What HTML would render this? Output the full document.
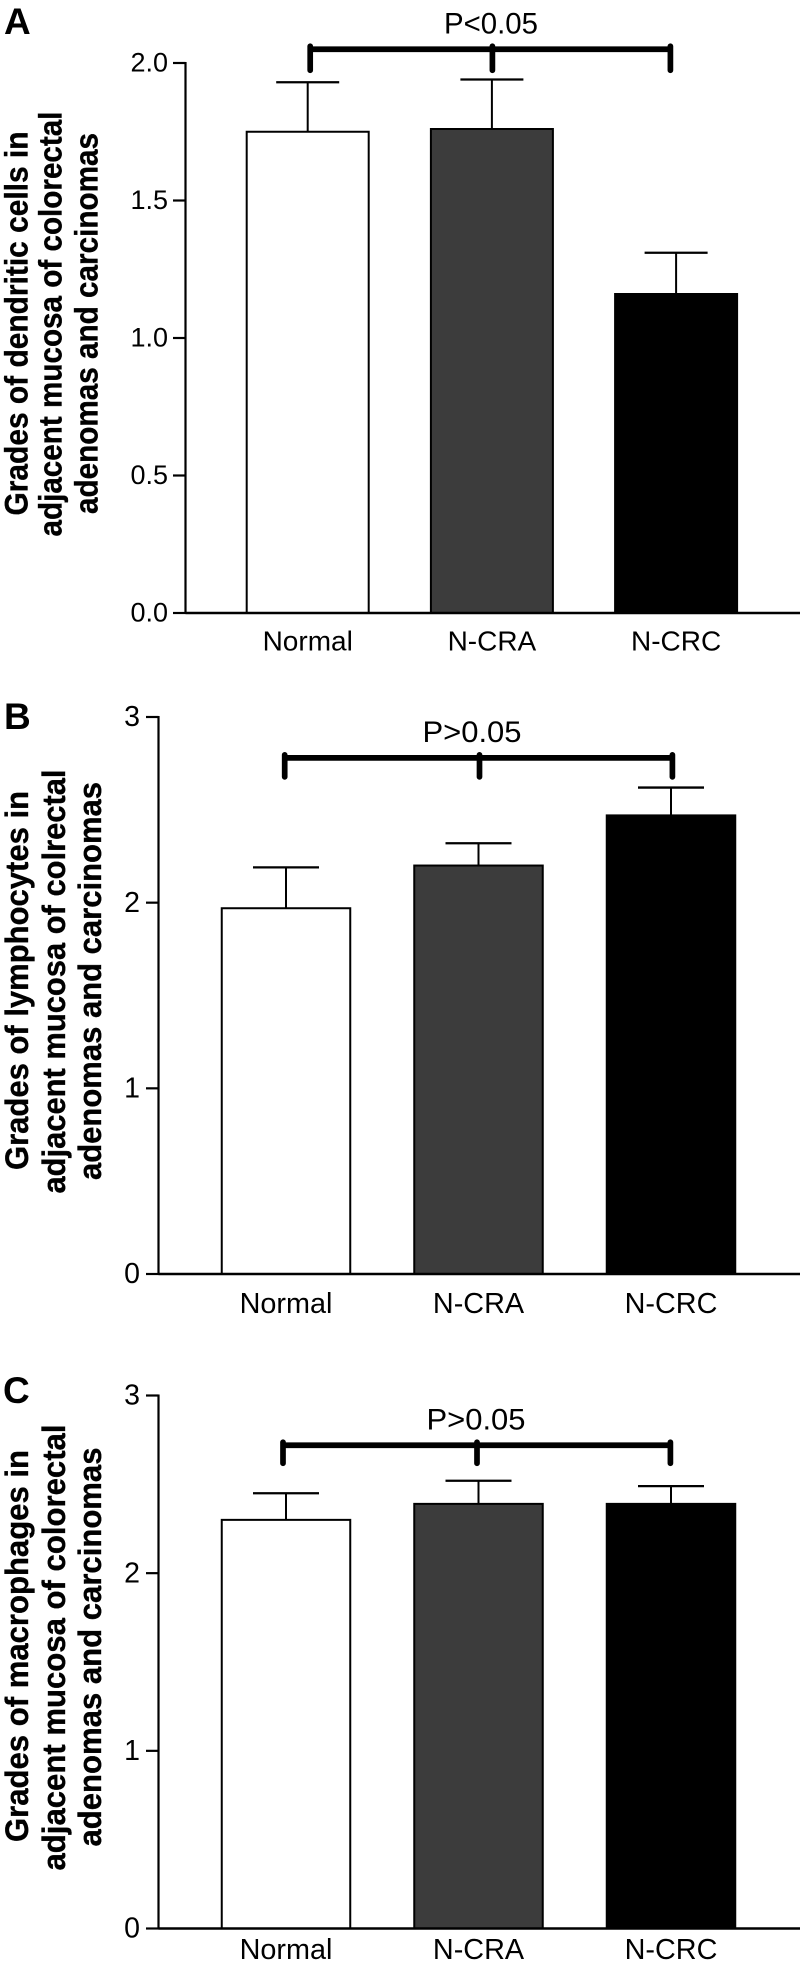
<!DOCTYPE html>
<html lang="en">
<head>
<meta charset="utf-8">
<title>Grades of immune cells in adjacent mucosa</title>
<style>
  html, body { margin: 0; padding: 0; background: #fff; }
  svg { display: block; font-family: "Liberation Sans", Arial, sans-serif; }
  .ylabel { font-weight: 700; font-size: 32px; fill: #000; stroke: #000; stroke-width: 0.35px; }
  .letter { font-weight: 700; font-size: 37px; fill: #000; }
</style>
</head>
<body>
<svg id="figure" xmlns="http://www.w3.org/2000/svg" width="800" height="1975" viewBox="0 0 800 1975">
  <rect x="0" y="0" width="800" height="1975" fill="#fff"/>

  <text class="letter" x="4" y="34">A</text>
  <text class="letter" x="4" y="729">B</text>
  <text class="letter" x="3" y="1403">C</text>

  <g>
    <text class="ylabel" transform="translate(27.7,515.5) rotate(-90)" textLength="384" lengthAdjust="spacingAndGlyphs">Grades of dendritic cells in</text>
    <text class="ylabel" transform="translate(61.7,536.5) rotate(-90)" textLength="425" lengthAdjust="spacingAndGlyphs">adjacent mucosa of colorectal</text>
    <text class="ylabel" transform="translate(97.5,514) rotate(-90)" textLength="381" lengthAdjust="spacingAndGlyphs">adenomas and carcinomas</text>
  </g>
  <g>
    <text class="ylabel" transform="translate(28,1170) rotate(-90)" textLength="379" lengthAdjust="spacingAndGlyphs">Grades of lymphocytes in</text>
    <text class="ylabel" transform="translate(65,1193.5) rotate(-90)" textLength="424" lengthAdjust="spacingAndGlyphs">adjacent mucosa of colrectal</text>
    <text class="ylabel" transform="translate(101,1180) rotate(-90)" textLength="398" lengthAdjust="spacingAndGlyphs">adenomas and carcinomas</text>
  </g>
  <g>
    <text class="ylabel" transform="translate(28,1842) rotate(-90)" textLength="392" lengthAdjust="spacingAndGlyphs">Grades of macrophages in</text>
    <text class="ylabel" transform="translate(65,1870.5) rotate(-90)" textLength="446" lengthAdjust="spacingAndGlyphs">adjacent mucosa of colorectal</text>
    <text class="ylabel" transform="translate(101,1846.5) rotate(-90)" textLength="399" lengthAdjust="spacingAndGlyphs">adenomas and carcinomas</text>
  </g>
</svg>

<script>
// ---- data ----
const categories = ['Normal', 'N-CRA', 'N-CRC'];

const panelAValues = [1.75, 1.76, 1.16];
const panelAErrorTops = [1.93, 1.94, 1.31];
const panelATicks = [0, 0.5, 1, 1.5, 2];
const panelATickLabels = ['0.0', '0.5', '1.0', '1.5', '2.0'];
const panelABracketLevel = [2.05];
const panelAPLabel = ['P<0.05'];

const panelBValues = [1.97, 2.2, 2.47];
const panelBErrorTops = [2.19, 2.32, 2.62];
const panelBTicks = [0, 1, 2, 3];
const panelBTickLabels = ['0', '1', '2', '3'];
const panelBBracketLevel = [2.78];
const panelBPLabel = ['P>0.05'];

const panelCValues = [2.3, 2.39, 2.39];
const panelCErrorTops = [2.45, 2.52, 2.49];
const panelCTicks = [0, 1, 2, 3];
const panelCTickLabels = ['0', '1', '2', '3'];
const panelCBracketLevel = [2.72];
const panelCPLabel = ['P>0.05'];

// ---- layout (pixels, separate from data) ----
const barFills = ['#ffffff', '#3c3c3c', '#000000'];
const panels = [
  { id: 'a', values: panelAValues, errs: panelAErrorTops, ticks: panelATicks, labels: panelATickLabels,
    level: panelABracketLevel[0], p: panelAPLabel[0], yMax: 2,
    axisX: 185.5, top: 63, bottom: 613, firstX: 307.7, pitch: 184.2, barW: 122, capW: 63,
    catY: 650.5, catFont: 28, tickFont: 27, labelRight: 168, labelDrop: 8.6, pX: 491, pY: 33.5, pW: 94, bracketNudge: [2.5, 0.5, -5.7], drop: 21 },
  { id: 'b', values: panelBValues, errs: panelBErrorTops, ticks: panelBTicks, labels: panelBTickLabels,
    level: panelBBracketLevel[0], p: panelBPLabel[0], yMax: 3,
    axisX: 158.5, top: 717, bottom: 1274, firstX: 286, pitch: 192.5, barW: 128.5, capW: 66,
    catY: 1313, catFont: 28.8, tickFont: 28.5, labelRight: 140, labelDrop: 9.2, pX: 472, pY: 742, pW: 99, bracketNudge: [-1.3, 1, 1.4], drop: 19 },
  { id: 'c', values: panelCValues, errs: panelCErrorTops, ticks: panelCTicks, labels: panelCTickLabels,
    level: panelCBracketLevel[0], p: panelCPLabel[0], yMax: 3,
    axisX: 158.5, top: 1395.5, bottom: 1928.5, firstX: 286, pitch: 192.5, barW: 128.5, capW: 66,
    catY: 1959, catFont: 28.8, tickFont: 28.5, labelRight: 140, labelDrop: 9.2, pX: 476, pY: 1429.5, pW: 99, bracketNudge: [-3, -1.5, -0.6], drop: 18 }
];

const NS = 'http://www.w3.org/2000/svg';
const figure = document.getElementById('figure');

function makeLine(parent, x1, y1, x2, y2, width, cap) {
  const ln = document.createElementNS(NS, 'line');
  ln.setAttribute('x1', x1);
  ln.setAttribute('y1', y1);
  ln.setAttribute('x2', x2);
  ln.setAttribute('y2', y2);
  ln.setAttribute('stroke', '#000');
  ln.setAttribute('stroke-width', width);
  ln.setAttribute('stroke-linecap', cap || 'butt');
  parent.appendChild(ln);
  return ln;
}

function makeText(parent, x, y, str, size, anchor) {
  const t = document.createElementNS(NS, 'text');
  t.setAttribute('x', x);
  t.setAttribute('y', y);
  t.setAttribute('font-size', size);
  t.setAttribute('text-anchor', anchor);
  t.setAttribute('fill', '#000');
  t.textContent = str;
  parent.appendChild(t);
  return t;
}

panels.forEach(function (cfg) {
  const yScale = function (v) { return cfg.bottom - (v / cfg.yMax) * (cfg.bottom - cfg.top); };
  const xScale = function (i) { return cfg.firstX + i * cfg.pitch; };

  const group = document.createElementNS(NS, 'g');
  
  
  figure.appendChild(group);

  // error bars (behind bars)
  cfg.values.forEach(function (v, i) {
    const errGroup = document.createElementNS(NS, 'g');
    
    
    group.appendChild(errGroup);
    makeLine(errGroup, xScale(i), yScale(v), xScale(i), yScale(cfg.errs[i]), 2);
    makeLine(errGroup, xScale(i) - cfg.capW / 2, yScale(cfg.errs[i]), xScale(i) + cfg.capW / 2, yScale(cfg.errs[i]), 2.3);
  });

  // bars
  cfg.values.forEach(function (v, i) {
    const bar = document.createElementNS(NS, 'rect');
    
    
    bar.setAttribute('x', xScale(i) - cfg.barW / 2);
    bar.setAttribute('y', yScale(v));
    bar.setAttribute('width', cfg.barW);
    bar.setAttribute('height', cfg.bottom - yScale(v));
    bar.setAttribute('fill', barFills[i]);
    bar.setAttribute('stroke', '#000');
    bar.setAttribute('stroke-width', 2);
    group.appendChild(bar);
  });

  // axes
  const yAxis = makeLine(group, cfg.axisX, cfg.top - 1, cfg.axisX, cfg.bottom + 1, 2.2);
  
  
  const xAxis = makeLine(group, cfg.axisX, cfg.bottom, 800, cfg.bottom, 2.4);
  
  

  // y ticks and labels
  cfg.ticks.forEach(function (v, i) {
    const tick = makeLine(group, cfg.axisX - 12.5, yScale(v), cfg.axisX, yScale(v), 2.2);
    
    
    const label = makeText(group, cfg.labelRight, yScale(v) + cfg.labelDrop, cfg.labels[i], cfg.tickFont, 'end');
    
    
  });

  // category labels
  categories.forEach(function (c, i) {
    const label = makeText(group, xScale(i), cfg.catY, c, cfg.catFont, 'middle');
    
    
  });

  // significance bracket
  const bracket = document.createElementNS(NS, 'g');
  
  
  group.appendChild(bracket);
  const by = yScale(cfg.level);
  const bx0 = xScale(0) + cfg.bracketNudge[0];
  const bx2 = xScale(2) + cfg.bracketNudge[2];
  makeLine(bracket, bx0, by, bx2, by, 5.7);
  categories.forEach(function (c, i) {
    const bx = xScale(i) + cfg.bracketNudge[i];
    makeLine(bracket, bx, by - 3, bx, by + cfg.drop, 5.7, 'round');
  });

  const pText = makeText(group, cfg.pX, cfg.pY, cfg.p, 30, 'middle');
  
  
  pText.setAttribute('textLength', cfg.pW);
  pText.setAttribute('lengthAdjust', 'spacingAndGlyphs');
});
</script>
</body>
</html>
